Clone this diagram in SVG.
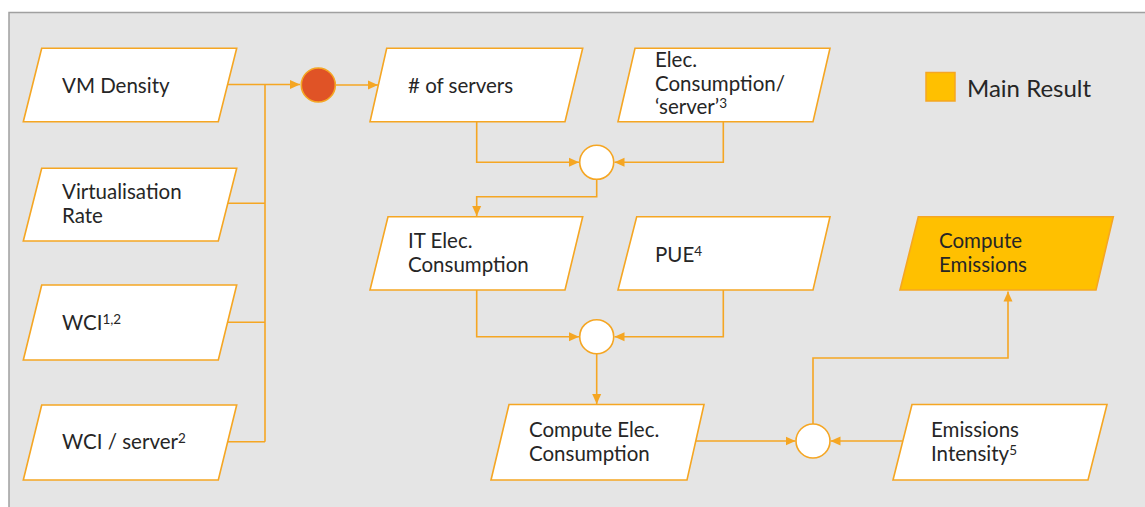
<svg xmlns="http://www.w3.org/2000/svg" width="1145" height="507" viewBox="0 0 1145 507">
<defs>
<style>
.box{fill:#fff;stroke:#F5A623;stroke-width:1.6;stroke-linejoin:miter}
.main{fill:#FFC000;stroke:#F5A623;stroke-width:1.6}
.join{fill:#fff;stroke:#F5A623;stroke-width:1.6}
.t{font-family:Lato,"Liberation Sans",sans-serif;font-size:20.5px;fill:#262626}
.sup{font-size:13.5px}
.con{fill:none;stroke:#F5A623;stroke-width:1.6}
</style>
<marker id="ah" viewBox="0 0 10 10" refX="10" refY="5" markerWidth="10" markerHeight="10" markerUnits="userSpaceOnUse" orient="auto">
<path d="M0,0.5 L10,5 L0,9.5 Z" fill="#F5A623"/>
</marker>
</defs>
<rect x="0" y="0" width="1145" height="507" fill="#fff"/>
<rect x="9" y="12.5" width="1150" height="510" fill="#E5E5E5" stroke="#A0A0A0" stroke-width="1.5"/>

<g id="connectors">
<path class="con" d="M228,84.5 H300" marker-end="url(#ah)"/>
<path class="con" d="M265,84.5 V441.7"/>
<path class="con" d="M228,203.3 H265"/>
<path class="con" d="M228,322.3 H265"/>
<path class="con" d="M228,441.7 H265"/>
<path class="con" d="M336,85 H378" marker-end="url(#ah)"/>
<path class="con" d="M476.7,121.7 V162.3 H579" marker-end="url(#ah)"/>
<path class="con" d="M723.3,121.7 V162.3 H614.5" marker-end="url(#ah)"/>
<path class="con" d="M596.7,179.3 V196.7 H476.7 V216" marker-end="url(#ah)"/>
<path class="con" d="M476.7,290 V336.7 H579" marker-end="url(#ah)"/>
<path class="con" d="M723.3,290 V336.7 H614.5" marker-end="url(#ah)"/>
<path class="con" d="M596.7,353.7 V404" marker-end="url(#ah)"/>
<path class="con" d="M696,441 H795.5" marker-end="url(#ah)"/>
<path class="con" d="M902.5,441 H830.5" marker-end="url(#ah)"/>
<path class="con" d="M813,424 V358 H1008 V291.5" marker-end="url(#ah)"/>
</g>

<g id="vm-density">
<polygon class="box" points="41.7,48.3 236.7,48.3 218.3,121.7 23.3,121.7"/>
<text class="t" x="62" y="93">VM Density</text>
</g>
<g id="virtualisation-rate">
<polygon class="box" points="41.7,168.3 236.7,168.3 218.3,241 23.3,241"/>
<text class="t" x="62" y="199">Virtualisation</text>
<text class="t" x="62" y="223">Rate</text>
</g>
<g id="wci">
<polygon class="box" points="41.7,285 236.7,285 218.3,360 23.3,360"/>
<text class="t" x="62" y="330">WCI<tspan class="sup" dy="-6">1,2</tspan></text>
</g>
<g id="wci-server">
<polygon class="box" points="41.7,405 236.7,405 218.3,480 23.3,480"/>
<text class="t" x="62" y="449">WCI / server<tspan class="sup" dy="-6">2</tspan></text>
</g>

<g id="red-join">
<circle cx="318.3" cy="85" r="17" fill="#E05326" stroke="#F5A623" stroke-width="1.6"/>
</g>

<g id="num-servers">
<polygon class="box" points="386.7,48.3 582.7,48.3 565,121.7 370,121.7"/>
<text class="t" x="408" y="93"># of servers</text>
</g>
<g id="elec-server">
<polygon class="box" points="635,48.3 830,48.3 813,121.7 618,121.7"/>
<text class="t" x="655" y="67">Elec.</text>
<text class="t" x="655" y="91">Consumption/</text>
<text class="t" x="655" y="114">‘server’<tspan class="sup" dy="-6">3</tspan></text>
</g>
<g id="join-1">
<circle class="join" cx="596.7" cy="162.3" r="17"/>
</g>

<g id="it-elec">
<polygon class="box" points="388,216.7 582.7,216.7 565,290 370,290"/>
<text class="t" x="408" y="248">IT Elec.</text>
<text class="t" x="408" y="272">Consumption</text>
</g>
<g id="pue">
<polygon class="box" points="636.7,216.7 830,216.7 813,290 618,290"/>
<text class="t" x="655" y="262">PUE<tspan class="sup" dy="-6">4</tspan></text>
</g>
<g id="join-2">
<circle class="join" cx="596.7" cy="336.7" r="17"/>
</g>

<g id="compute-elec">
<polygon class="box" points="509,404.5 704,404.5 687,480 491,480"/>
<text class="t" x="529" y="437">Compute Elec.</text>
<text class="t" x="529" y="461">Consumption</text>
</g>
<g id="join-3">
<circle class="join" cx="813" cy="441" r="17"/>
</g>
<g id="emissions-intensity">
<polygon class="box" points="912,404.5 1107,404.5 1088,480 893,480"/>
<text class="t" x="931" y="437">Emissions</text>
<text class="t" x="931" y="461">Intensity<tspan class="sup" dy="-6">5</tspan></text>
</g>

<g id="compute-emissions">
<polygon class="main" points="918.3,216.7 1113.3,216.7 1096,290 900,290"/>
<text class="t" x="939" y="248" fill="#1a1a1a">Compute</text>
<text class="t" x="939" y="272" fill="#1a1a1a">Emissions</text>
</g>

<g id="legend">
<rect x="926" y="72.5" width="29" height="28.5" fill="#FFC000" stroke="#F5A623" stroke-width="1.5"/>
<text class="t" x="967" y="96.5" style="font-size:24px">Main Result</text>
</g>
</svg>
